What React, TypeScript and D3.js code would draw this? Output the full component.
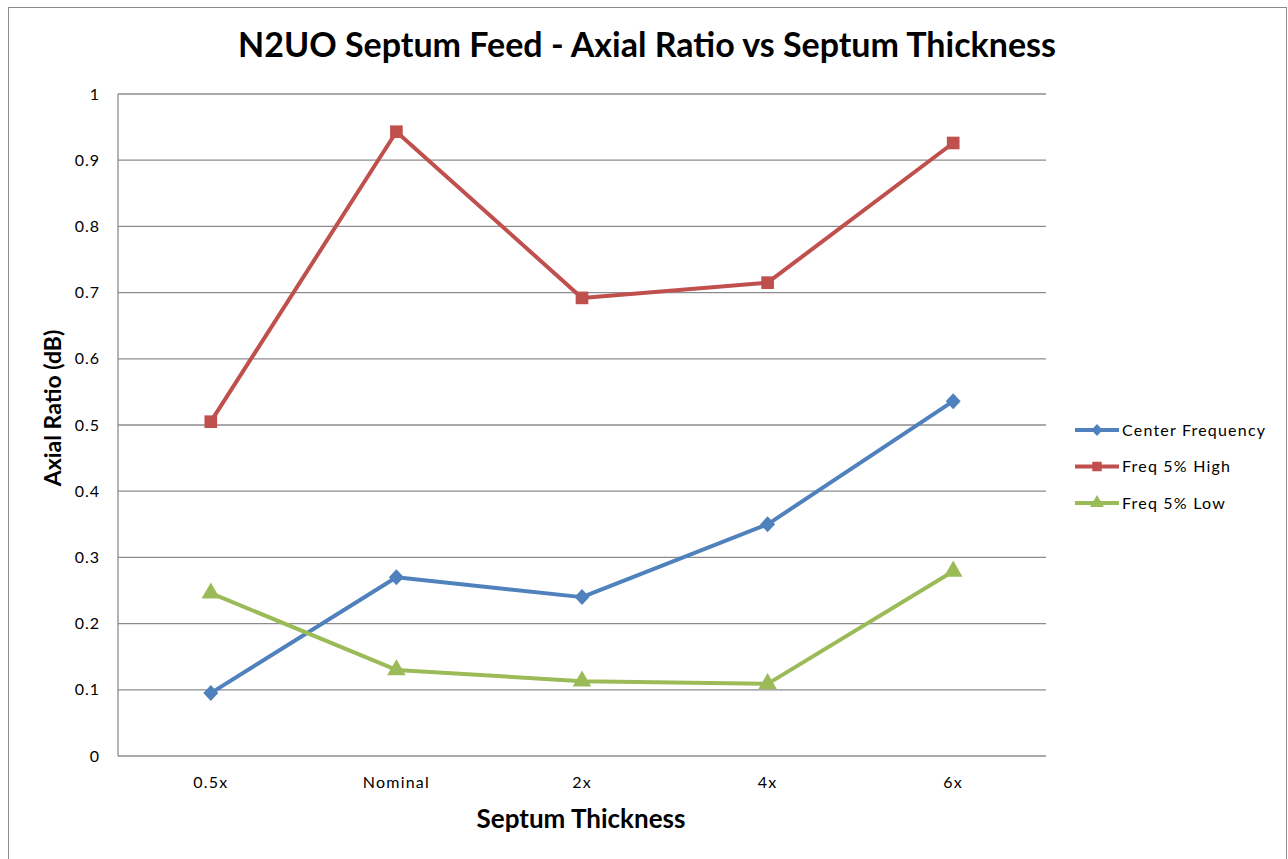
import React from 'react';
import * as d3 from 'd3';

const categories = ['0.5x', 'Nominal', '2x', '4x', '6x'];
const centerFreq = [0.095, 0.27, 0.24, 0.35, 0.536];
const freqHigh = [0.505, 0.943, 0.692, 0.715, 0.926];
const freqLow = [0.246, 0.13, 0.113, 0.109, 0.279];
const yTicks = [0, 0.1, 0.2, 0.3, 0.4, 0.5, 0.6, 0.7, 0.8, 0.9, 1];

const series = [
  { name: 'Center Frequency', values: centerFreq, color: '#4F81BD', marker: 'diamond' },
  { name: 'Freq 5% High', values: freqHigh, color: '#C0504D', marker: 'square' },
  { name: 'Freq 5% Low', values: freqLow, color: '#9BBB59', marker: 'triangle' }
];

const width = 1288;
const height = 859;
const margin = { top: 94, right: 242, bottom: 103, left: 118 };
const font = 'Lato, "Open Sans", sans-serif';

const markerPath = (type: string) => {
  if (type === 'diamond') return 'M0,-8L7.5,0L0,8L-7.5,0Z';
  if (type === 'square') return d3.symbol(d3.symbolSquare, 160)() || '';
  return d3.symbol(d3.symbolTriangle, 150)() || '';
};

const App: React.FC = () => {
  const innerW = width - margin.left - margin.right;
  const innerH = height - margin.top - margin.bottom;

  const x = d3.scaleBand().domain(categories).range([0, innerW]);
  const y = d3.scaleLinear().domain([0, 1]).range([innerH, 0]);
  const cx = (c: string) => (x(c) || 0) + x.bandwidth() / 2;

  const line = d3.line<number>()
    .x((_, i) => cx(categories[i]))
    .y(d => y(d));

  return (
    <div style={{ position: 'absolute', left: 0, top: 0 }}>
      <svg width={width} height={height} style={{ display: 'block', fontFamily: font }}>
        <rect x={0} y={0} width={width} height={height} fill="white" />
        <rect x={8.5} y={7.5} width={1278} height={860} fill="none" stroke="#8c8c8c" strokeWidth={1} />

        <text x={647} y={57} textAnchor="middle" fontSize={34} fontWeight="bold" fill="#000">
          N2UO Septum Feed - Axial Ratio vs Septum Thickness
        </text>

        <g transform={`translate(${margin.left},${margin.top})`}>
          {yTicks.map(t => (
            <g key={t}>
              {t > 0 && (
                <line x1={0} x2={innerW} y1={y(t)} y2={y(t)} stroke="#8c8c8c" strokeWidth={1.3} />
              )}
              <text x={-18} y={y(t)} dy="0.35em" textAnchor="end" fontSize={16} letterSpacing={1} fill="#000">
                {d3.format('')(t)}
              </text>
            </g>
          ))}
          <line x1={0} x2={0} y1={0} y2={innerH} stroke="#8c8c8c" strokeWidth={1.3} />
          <line x1={0} x2={innerW} y1={innerH} y2={innerH} stroke="#8c8c8c" strokeWidth={1.3} />

          {categories.map(c => (
            <text key={c} x={cx(c)} y={innerH + 32} textAnchor="middle" fontSize={16} letterSpacing={1.2} fill="#000">
              {c}
            </text>
          ))}

          {series.map(s => (
            <g key={s.name}>
              <path d={line(s.values) || ''} fill="none" stroke={s.color} strokeWidth={4} strokeLinejoin="round" />
              {s.values.map((v, i) => (
                <path key={i} d={markerPath(s.marker)} transform={`translate(${cx(categories[i])},${y(v)})`} fill={s.color} />
              ))}
            </g>
          ))}
        </g>

        <text x={581} y={828} textAnchor="middle" fontSize={26} fontWeight="bold" fill="#000">
          Septum Thickness
        </text>
        <text transform="translate(61,408) rotate(-90)" textAnchor="middle" fontSize={23} fontWeight="bold" fill="#000">
          Axial Ratio (dB)
        </text>

        <g transform="translate(1075,430)">
          {series.map((s, i) => (
            <g key={s.name} transform={`translate(0,${i * 36.5})`}>
              <line x1={0} x2={44} y1={0} y2={0} stroke={s.color} strokeWidth={4} />
              <path d={markerPath(s.marker)} transform="translate(22,0) scale(0.75)" fill={s.color} />
              <text x={47} y={0} dy="0.35em" fontSize={16} letterSpacing={1.2} fill="#000">{s.name}</text>
            </g>
          ))}
        </g>
      </svg>
    </div>
  );
};

export default App;
